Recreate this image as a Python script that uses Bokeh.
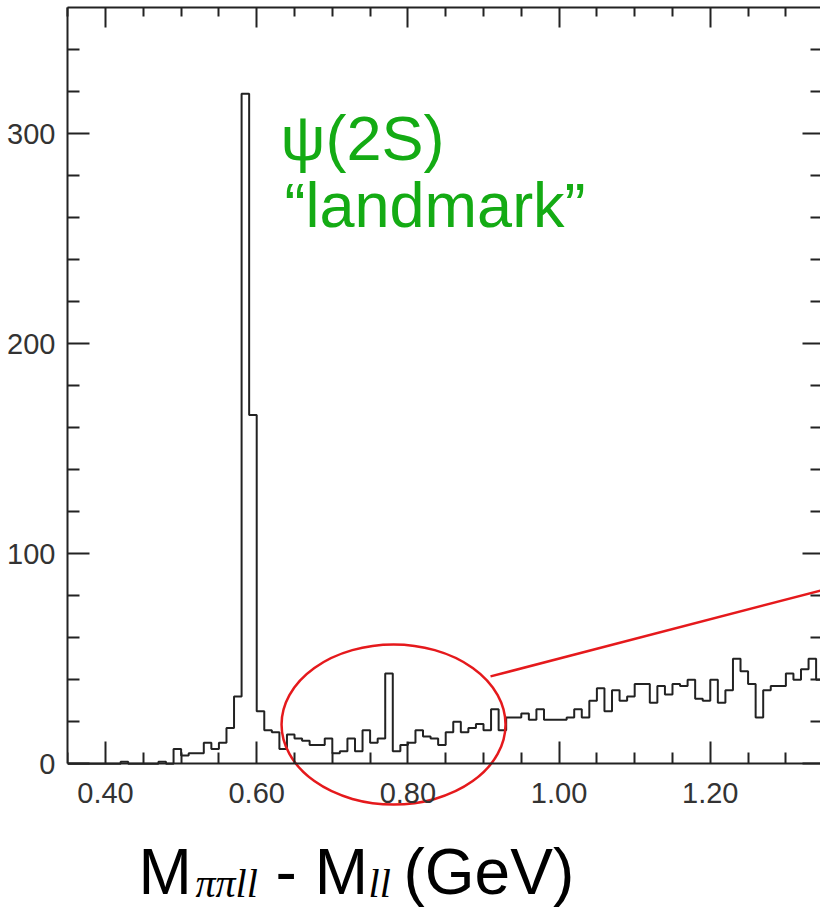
import numpy as np
from bokeh.plotting import figure
from bokeh.models import (Range1d, FixedTicker, LinearAxis, Label,
                          PrintfTickFormatter, CustomJSTickFormatter)
from bokeh.embed import file_html
from bokeh.resources import INLINE

# ---------------- data ----------------
bin_start = 0.35
bin_width = 0.01
counts = [
    0, 0, 0, 0, 0, 0, 0, 1, 0, 0,          # 0.35 - 0.44
    0, 0, 1, 0, 7, 4, 5, 5, 10, 7,         # 0.45 - 0.54
    10, 17, 32, 319, 166, 25, 16, 15, 7, 14,  # 0.55 - 0.64
    12, 11, 9, 9, 12, 5, 6, 12, 6, 16,     # 0.65 - 0.74
    10, 12, 43, 6, 9, 10, 16, 13, 12, 9,   # 0.75 - 0.84
    15, 20, 15, 17, 19, 16, 26, 16, 22, 22,  # 0.85 - 0.94
    24, 21, 26, 21, 21, 21, 22, 26, 22, 30,  # 0.95 - 1.04
    36, 25, 35, 30, 32, 38, 38, 29, 37, 33,  # 1.05 - 1.14
    38, 37, 40, 31, 30, 40, 29, 35, 50, 44,  # 1.15 - 1.24
    38, 22, 35, 37, 37, 43, 40, 45, 50, 40,  # 1.25 - 1.34
]
edges = [round(bin_start + i * bin_width, 2) for i in range(len(counts) + 1)]

x_major = [0.40, 0.60, 0.80, 1.00, 1.20]
x_minor = [0.35, 0.45, 0.50, 0.55, 0.65, 0.70, 0.75, 0.85, 0.90, 0.95,
           1.05, 1.10, 1.15, 1.25, 1.30]
y_major = [0, 100, 200, 300]
y_minor = [20, 40, 60, 80, 120, 140, 160, 180, 220, 240, 260, 280, 320, 340]

title_line1 = "ψ(2S)"
title_line2 = "\u201clandmark\u201d"

# ---------------- figure ----------------
AX = "#222222"
GREEN = "#14ab14"
RED = "#e5191c"

p = figure(width=820, height=908, output_backend="svg", toolbar_location=None,
           x_range=Range1d(0.3497, 1.3458), y_range=Range1d(-68.88, 360),
           min_border_left=67, min_border_right=0, min_border_top=7,
           min_border_bottom=0)
p.outline_line_color = None
p.xgrid.visible = False
p.ygrid.visible = False
p.background_fill_color = "white"
p.border_fill_color = "white"

empty_fmt = CustomJSTickFormatter(code="return ''")


def style(ax, major_ticks, minor_ticks, maj, mnr, labels=True, line=True):
    ax.ticker = FixedTicker(ticks=major_ticks, minor_ticks=minor_ticks)
    ax.major_tick_in = maj
    ax.major_tick_out = 0
    ax.minor_tick_in = mnr
    ax.minor_tick_out = 0
    ax.major_tick_line_width = 2
    ax.minor_tick_line_width = 2
    ax.major_tick_line_color = AX
    ax.minor_tick_line_color = AX
    ax.axis_line_width = 2
    ax.axis_line_color = AX if line else None
    if labels:
        ax.major_label_text_font = "Liberation Sans"
        ax.major_label_text_font_size = "29px"
        ax.major_label_text_color = "#333333"
    else:
        ax.formatter = empty_fmt
        ax.major_label_standoff = 0


xb = p.xaxis[0]
style(xb, x_major, x_minor, 22, 11)
xb.formatter = PrintfTickFormatter(format="%.2f")
xb.major_label_standoff = 19
xb.fixed_location = 0

yl = p.yaxis[0]
style(yl, y_major, y_minor, 22, 12)
yl.major_label_standoff = 12
yl.bounds = (0, 360)

xt = LinearAxis()
style(xt, x_major, x_minor, 20, 9, labels=False)
p.add_layout(xt, "above")

yr = LinearAxis()
style(yr, y_major, y_minor, 18, 10, labels=False, line=False)
yr.bounds = (0, 360)
p.add_layout(yr, "right")

# histogram
p.step(edges, counts + [counts[-1]], mode="after", line_color=AX, line_width=2)

# red ellipse and pointer line
p.ellipse(x=[0.7810], y=[18.7], width=[0.2963], height=[76.2],
          fill_color=None, line_color=RED, line_width=2.5)
p.segment(x0=[0.9093], y0=[41.6], x1=[1.36], y1=[83.8], line_color=RED, line_width=2.5)

# green annotation
p.add_layout(Label(x=0.6315, y=298.1, text=title_line1, text_font="Liberation Sans",
                   text_font_size="63px", text_color=GREEN, text_baseline="alphabetic"))
p.add_layout(Label(x=0.6368, y=265.8, text=title_line2, text_font="Liberation Sans",
                   text_font_size="63px", text_color=GREEN, text_baseline="alphabetic"))

# x axis title, built from pieces (with subscripts)
main_y = -51.3
sub_y = -57.0
pieces = [
    (0.4437, main_y, "M", "normal", "Liberation Sans", "64px"),
    (0.5190, sub_y, "ππll", "italic", "Liberation Serif", "40px"),
    (0.6249, main_y, "- M", "normal", "Liberation Sans", "64px"),
    (0.7479, sub_y, "ll", "italic", "Liberation Serif", "40px"),
    (0.7942, main_y, "(GeV)", "normal", "Liberation Sans", "64px"),
]
for x, y, txt, fstyle, font, size in pieces:
    p.add_layout(Label(x=x, y=y, text=txt, text_font=font, text_font_style=fstyle,
                       text_font_size=size, text_color="black",
                       text_baseline="alphabetic"))

open("out.html", "w").write(file_html(p, INLINE))
